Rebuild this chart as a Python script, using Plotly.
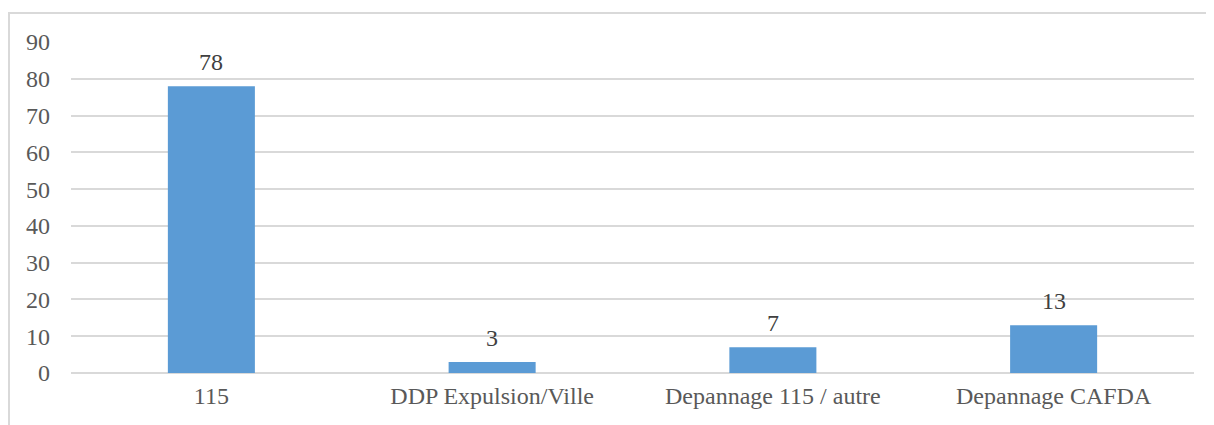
import plotly.graph_objects as go

categories = ["115", "DDP Expulsion/Ville", "Depannage 115 / autre", "Depannage CAFDA"]
values = [78, 3, 7, 13]
y_ticks = [0, 10, 20, 30, 40, 50, 60, 70, 80, 90]

# the page body adds an 8px margin, so the figure is sized to fit the window
W, H = 1206, 417
L, R, T, B = 63, 20, 34, 52
pw, ph = W - L - R, H - T - B

SERIF = "Times New Roman, Liberation Serif, DejaVu Serif, serif"
FS = 24

fig = go.Figure()
fig.add_trace(go.Bar(
    x=categories,
    y=values,
    marker_color="#5b9bd5",
    marker_line_width=0,
))

# value labels above the bars (category index, since "115" would read as a number)
for i, v in enumerate(values):
    fig.add_annotation(
        x=i, y=v, text=str(v),
        showarrow=False, yanchor="bottom", yshift=9,
        font=dict(size=FS, color="#404040", family=SERIF),
    )

fig.update_layout(
    width=W,
    height=H,
    margin=dict(l=L, r=R, t=T, b=B),
    plot_bgcolor="#ffffff",
    paper_bgcolor="#ffffff",
    showlegend=False,
    bargap=0.69,
    font=dict(family=SERIF, size=FS, color="#595959"),
    xaxis=dict(
        type="category",
        range=[-0.5, len(categories) - 0.5],
        showgrid=False,
        showline=False,
        ticks="",
        ticklabelstandoff=6,
        tickfont=dict(size=FS, color="#595959", family=SERIF),
    ),
    yaxis=dict(
        range=[0, 90],
        tickvals=y_ticks,
        showgrid=True,
        gridcolor="#d9d9d9",
        gridwidth=2,
        zeroline=True,
        zerolinecolor="#d9d9d9",
        zerolinewidth=2,
        showline=False,
        ticks="",
        ticklabelstandoff=20,
        tickfont=dict(size=FS, color="#595959", family=SERIF),
    ),
)

# outer chart border (runs past the bottom/right of the view)
fig.add_shape(
    type="rect",
    xref="paper", yref="paper",
    x0=(1 - L) / pw, x1=(W + 10 - L) / pw,
    y0=-(B + 10) / ph, y1=1 + (T - 5) / ph,
    line=dict(color="#d9d9d9", width=2),
    layer="below",
)

fig.write_html("out.html")
